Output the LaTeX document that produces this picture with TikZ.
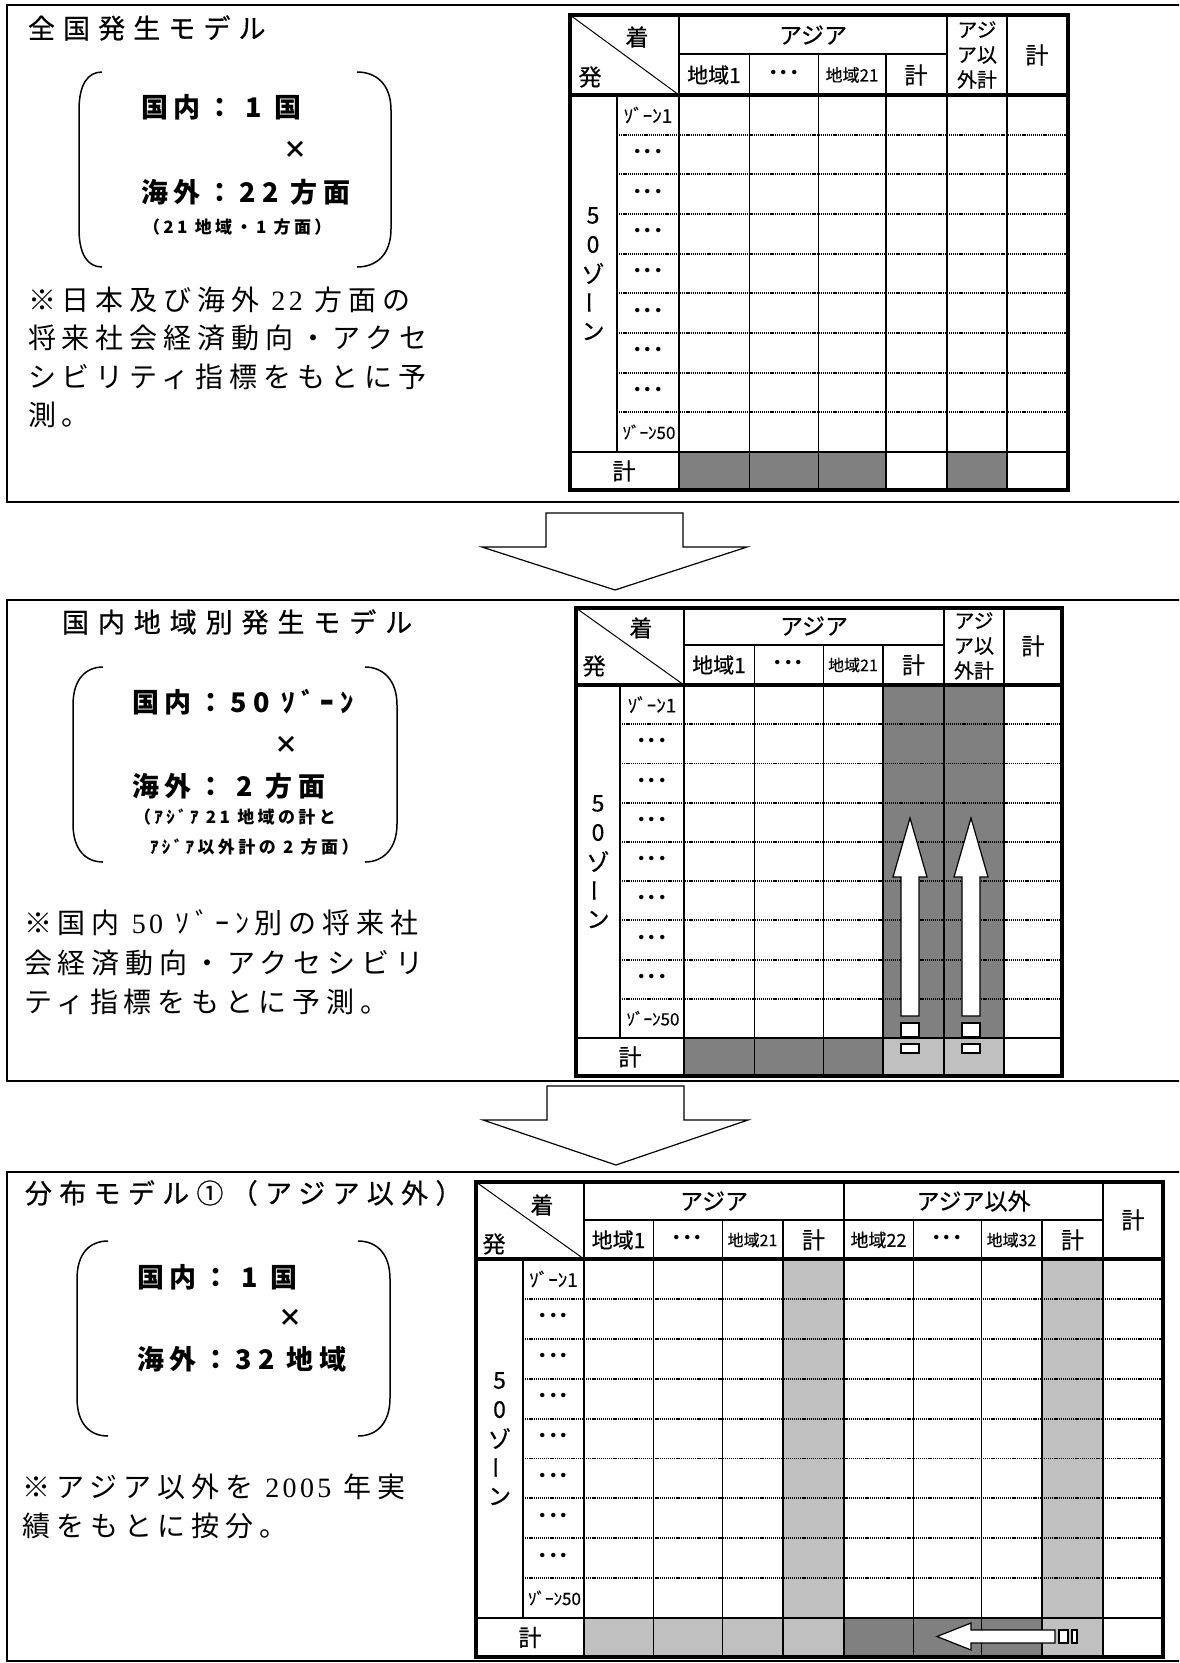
\documentclass[tikz,border=0pt]{standalone}
\usepackage{fontspec}
\setmainfont{Noto Sans CJK JP}
\newfontfamily\serifnum{Liberation Serif}[LetterSpace=12]
\definecolor{dg}{HTML}{808080}
\definecolor{lg}{HTML}{C0C0C0}
\newcommand\fsz[2]{\fontsize{#1}{#2}\selectfont}
\newcommand\lsp[1]{\addfontfeature{LetterSpace=#1}}
\newcommand\fb[1]{\addfontfeature{FakeBold=#1}}
\begin{document}
\begin{tikzpicture}[x=1pt,y=-1pt,
  boxline/.style={line width=2.3pt},
  touter/.style={line width=3.4pt},
  thk/.style={line width=2.4pt},
  thn/.style={line width=1pt},
  dotl/.style={line width=1.9pt,dash pattern=on 1.2pt off 0.9pt},
  brkline/.style={line width=1.5pt},
  blockarrow/.style={draw,fill=white,line width=1.2pt,line join=miter},
  tx/.style={inner sep=0pt,outer sep=0pt},
  lt/.style={tx,anchor=west},
  ttl/.style={lt,font=\fsz{27}{27}\fb{0.6}\lsp{30}},
  brk/.style={lt,font=\bfseries\fsz{27}{27}\lsp{22}},
  brkx/.style={tx,font=\bfseries\fsz{24}{24}},
  sml/.style={lt,font=\bfseries\fsz{17}{17}\lsp{20}},
  note/.style={lt,font=\fsz{28}{28}\lsp{21}},
  hd/.style={tx,font=\fsz{23}{23}\fb{0.5}},
  zn/.style={tx,font=\fsz{19}{19}\fb{0.4}},
  znb/.style={tx,font=\fsz{17}{17}\fb{0.4}},
  dd/.style={tx,font=\bfseries\fsz{21}{21}},
  rgA/.style={tx,font=\fsz{21}{21}\fb{0.5}},
  rgB/.style={tx,font=\fsz{16}{16}\fb{0.4}},
  oth/.style={tx,font=\fsz{20}{25}\fb{0.5},align=center}
]
\useasboundingbox (0,0) rectangle (1179,1663);
\clip (0,0) rectangle (1179,1663);

% ---------------- outer boxes ----------------
\draw[boxline] (7,5) rectangle (1195,502);
\draw[boxline] (7,600) rectangle (1195,1081);
\draw[boxline] (7,1172) rectangle (1195,1661);

% ---------------- big block arrows ----------------
\draw[blockarrow] (546,513) -- (683,513) -- (683,547) -- (747,547) -- (615,590) -- (482,547) -- (546,547) -- cycle;
\draw[blockarrow] (547,1086) -- (684,1086) -- (684,1120) -- (748,1120) -- (616,1165) -- (483,1120) -- (547,1120) -- cycle;

% ---------------- brackets ----------------
\draw[brkline] (102,72) .. controls (88,72) and (79,84) .. (79,110) -- (79,229) .. controls (79,255) and (88,267) .. (102,267);
\draw[brkline] (357,72) .. controls (376,72) and (391,84) .. (391,110) -- (391,229) .. controls (391,255) and (376,267) .. (357,267);
\draw[brkline] (103,667) .. controls (86,667) and (73,679) .. (73,705) -- (73,824) .. controls (73,850) and (86,862) .. (103,862);
\draw[brkline] (365,667) .. controls (382,667) and (397,679) .. (397,705) -- (397,824) .. controls (397,850) and (382,862) .. (365,862);
\draw[brkline] (108,1241) .. controls (90,1241) and (77,1253) .. (77,1279) -- (77,1398) .. controls (77,1424) and (90,1436) .. (108,1436);
\draw[brkline] (358,1241) .. controls (376,1241) and (390,1253) .. (390,1279) -- (390,1398) .. controls (390,1424) and (376,1436) .. (358,1436);

% ---------------- left texts, box 1 ----------------
\node[ttl] (t1) at (28,28) {全国発生モデル};
\node[brk] (b1a) at (141,107) {国内： 1 国};
\node[brkx] (b1x) at (295,150) {×};
\node[brk] (b1b) at (141,192) {海外：22 方面};
\node[sml] (b1c) at (143,227) {（21 地域・1 方面）};
\node[note] (n1a) at (28,300) {※日本及び海外 {\serifnum 22} 方面の};
\node[note] (n1b) at (28,338) {将来社会経済動向・アクセ};
\node[note] (n1c) at (28,377) {シビリティ指標をもとに予};
\node[note] (n1d) at (28,415) {測。};

% ---------------- left texts, box 2 ----------------
\node[ttl,font=\fsz{27}{27}\fb{0.6}\lsp{33}] (t2) at (62,622) {国内地域別発生モデル};
\node[brk] (b2a) at (132,702) {国内：50 ｿﾞｰﾝ};
\node[brkx] (b2x) at (286,745) {×};
\node[brk] (b2b) at (132,786) {海外： 2 方面};
\node[sml] (b2c) at (134,817) {（ｱｼﾞｱ 21 地域の計と};
\node[sml] (b2d) at (150,847) {ｱｼﾞｱ以外計の 2 方面）};
\node[note] (n2a) at (24,923) {※国内 {\serifnum 50} ｿﾞｰﾝ別の将来社};
\node[note] (n2b) at (24,963) {会経済動向・アクセシビリ};
\node[note] (n2c) at (24,1002) {ティ指標をもとに予測。};

% ---------------- left texts, box 3 ----------------
\node[ttl,font=\fsz{27}{27}\fb{0.6}\lsp{27}] (t3) at (25,1193) {分布モデル①（アジア以外）};
\node[brk] (b3a) at (137,1277) {国内： 1 国};
\node[brkx] (b3x) at (290,1318) {×};
\node[brk] (b3b) at (137,1359) {海外：32 地域};
\node[note] (n3a) at (23,1487) {※アジア以外を {\serifnum 2005} 年実};
\node[note] (n3b) at (23,1526) {績をもとに按分。};

% ================= TABLE 1 =================
\fill[dg] (679,452) rectangle (886,490);
\fill[dg] (947,452) rectangle (1007,490);
\foreach \k in {1,...,8} \draw[dotl] (617,{95+39.667*\k}) -- (1068,{95+39.667*\k});
\draw[thn] (749,54) -- (749,490) (818,54) -- (818,490);
\draw[thk] (617,95) -- (617,452) (679,15) -- (679,490) (886,54) -- (886,490)
  (947,15) -- (947,490) (1007,15) -- (1007,490) (679,54) -- (947,54) (570,452) -- (1068,452);
\draw[touter] (570,95) -- (1068,95);
\draw[thn] (570,15) -- (679,95);
\draw[touter] (570,15) rectangle (1068,490);
\node[hd] (a-chaku) at (637,37) {着};
\node[hd] (a-hatsu) at (590,77) {発};
\node[hd] (a-asia) at (813,35) {アジア};
\node[rgA] (a-r1) at (714,75) {地域1};
\node[dd] (a-rd) at (784,75) {･･･};
\node[tx,font=\fsz{17}{17}\fb{0.4}] (a-r21) at (852,75) {地域21};
\node[hd] (a-k1) at (916,75) {計};
\node[oth] (a-oth) at (977,55) {アジ\\ア以\\外計};
\node[hd] (a-k2) at (1037,55) {計};
\node[zn] (a-z1) at (648,115) {ｿﾞｰﾝ1};
\foreach \k in {2,...,8} \node[dd] (a-d\k) at (648,{95+39.667*(\k-0.5)}) {･･･};
\node[znb] (a-z50) at (649,432) {ｿﾞｰﾝ50};
\node[hd] (a-v0) at (593,215.5) {5};
\node[hd] (a-v1) at (593,244.5) {0};
\node[hd] (a-v2) at (593,273.5) {ゾ};
\node[hd,rotate=90] (a-v3) at (593,302.5) {ー};
\node[hd] (a-v4) at (593,331.5) {ン};
\node[hd] (a-tot) at (624,471) {計};

% ================= TABLE 2 =================
\fill[dg] (883,685) rectangle (1004,1038);
\fill[dg] (684,1038) rectangle (883,1076);
\fill[lg] (883,1038) rectangle (1004,1076);
\foreach \k in {1,...,8} \draw[dotl] (620,{685+39.222*\k}) -- (1062,{685+39.222*\k});
% up arrows
\draw[blockarrow] (910,818) -- (927,877) -- (919,877) -- (919,1016) -- (901,1016) -- (901,877) -- (893,877) -- cycle;
\draw[blockarrow] (971,818) -- (988,877) -- (980,877) -- (980,1016) -- (962,1016) -- (962,877) -- (954,877) -- cycle;
\draw[blockarrow] (901,1023) rectangle (919,1037) (962,1023) rectangle (980,1037);
\draw[blockarrow] (901,1044) rectangle (919,1053) (962,1044) rectangle (980,1053);
\draw[thn] (754,645) -- (754,1076) (823,645) -- (823,1076);
\draw[thk] (620,685) -- (620,1038) (684,608) -- (684,1076) (883,645) -- (883,1076)
  (944,608) -- (944,1076) (1004,608) -- (1004,1076) (684,645) -- (944,645) (576,1038) -- (1062,1038);
\draw[touter] (576,685) -- (1062,685);
\draw[thn] (576,608) -- (684,685);
\draw[touter] (576,608) rectangle (1062,1076);
\node[hd] (b-chaku) at (641,628) {着};
\node[hd] (b-hatsu) at (594,666) {発};
\node[hd] (b-asia) at (814,626) {アジア};
\node[rgA] (b-r1) at (719,665) {地域1};
\node[dd] (b-rd) at (788.5,665) {･･･};
\node[rgB] (b-r21) at (853,665) {地域21};
\node[hd] (b-k1) at (913.5,665) {計};
\node[oth] (b-oth) at (974,646) {アジ\\ア以\\外計};
\node[hd] (b-k2) at (1033,646) {計};
\node[zn] (b-z1) at (652,704.6) {ｿﾞｰﾝ1};
\foreach \k in {2,...,8} \node[dd] (b-d\k) at (652,{685+39.222*(\k-0.5)}) {･･･};
\node[znb] (b-z50) at (653,1018.4) {ｿﾞｰﾝ50};
\node[hd] (b-v0) at (598,803.5) {5};
\node[hd] (b-v1) at (598,832.5) {0};
\node[hd] (b-v2) at (598,861.5) {ゾ};
\node[hd,rotate=90] (b-v3) at (598,890.5) {ー};
\node[hd] (b-v4) at (598,919.5) {ン};
\node[hd] (b-tot) at (630,1057) {計};

% ================= TABLE 3 =================
\fill[lg] (783,1259) rectangle (844,1618);
\fill[lg] (1042,1259) rectangle (1103,1618);
\fill[lg] (584,1618) rectangle (844,1657);
\fill[dg] (844,1618) rectangle (1042,1657);
\fill[lg] (1042,1618) rectangle (1103,1657);
\foreach \k in {1,...,8} \draw[dotl] (523,{1259+39.889*\k}) -- (1163,{1259+39.889*\k});
\draw[thn] (653,1220) -- (653,1657) (722,1220) -- (722,1657) (913,1220) -- (913,1657) (981,1220) -- (981,1657);
\draw[thk] (523,1259) -- (523,1618) (584,1182) -- (584,1657) (783,1220) -- (783,1657)
  (844,1182) -- (844,1657) (1042,1220) -- (1042,1657) (1103,1182) -- (1103,1657)
  (584,1220) -- (1103,1220) (476,1618) -- (1163,1618);
\draw[touter] (476,1259) -- (1163,1259);
\draw[thn] (476,1182) -- (584,1259);
% left arrow
\draw[blockarrow] (937,1636.5) -- (971,1623) -- (971,1630) -- (1055,1630) -- (1055,1643) -- (971,1643) -- (971,1650) -- cycle;
\draw[blockarrow] (1059,1630) rectangle (1068,1643) (1072,1630) rectangle (1077,1643);
\draw[touter] (476,1182) rectangle (1163,1657);
\node[hd] (c-chaku) at (542,1205) {着};
\node[hd] (c-hatsu) at (494,1244) {発};
\node[hd] (c-asia) at (714,1201) {アジア};
\node[hd] (c-nonasia) at (973.5,1201) {アジア以外};
\node[hd] (c-tot2) at (1133,1220) {計};
\node[rgA] (c-r1) at (618.5,1240) {地域1};
\node[dd] (c-rd1) at (687.5,1240) {･･･};
\node[rgB] (c-r21) at (752.5,1240) {地域21};
\node[hd] (c-k1) at (813.5,1240) {計};
\node[tx,font=\fsz{18}{18}\fb{0.4}] (c-r22) at (878.5,1240) {地域22};
\node[dd] (c-rd2) at (947,1240) {･･･};
\node[rgB] (c-r32) at (1011.5,1240) {地域32};
\node[hd] (c-k2) at (1072.5,1240) {計};
\node[zn] (c-z1) at (553.5,1279) {ｿﾞｰﾝ1};
\foreach \k in {2,...,8} \node[dd] (c-d\k) at (553.5,{1259+39.889*(\k-0.5)}) {･･･};
\node[znb] (c-z50) at (554.5,1598) {ｿﾞｰﾝ50};
\node[hd] (c-v0) at (499.5,1380.5) {5};
\node[hd] (c-v1) at (499.5,1409.5) {0};
\node[hd] (c-v2) at (499.5,1438.5) {ゾ};
\node[hd,rotate=90] (c-v3) at (499.5,1467.5) {ー};
\node[hd] (c-v4) at (499.5,1496.5) {ン};
\node[hd] (c-tot) at (530,1637.5) {計};
\end{tikzpicture}
\end{document}
